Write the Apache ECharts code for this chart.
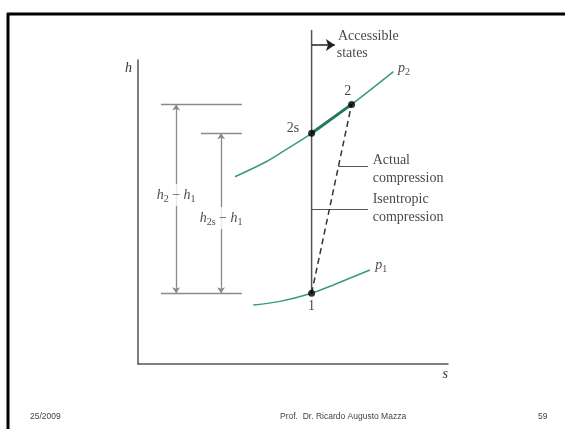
<!DOCTYPE html>
<html>
<head>
<meta charset="utf-8">
<script src="https://cdn.jsdelivr.net/npm/echarts@6/dist/echarts.min.js"></script>
<style>
html,body{margin:0;padding:0;background:#fff;}
#chart{width:565px;height:429px;}
</style>
</head>
<body>
<div id="chart"></div>
<script>
// ---- data (s, h in arbitrary diagram units) ----
const p2Curve = [[3.13,6.16],[4.15,6.66],[4.80,7.07],[5.60,7.59],[6.89,8.54],[8.24,9.62]];
const p1Curve = [[3.72,1.94],[4.58,2.06],[5.60,2.33],[6.30,2.60],[7.48,3.09]];
const state1  = [5.60, 2.33];
const state2s = [5.60, 7.59];
const state2  = [6.89, 8.54];
const isentropeTop = 10.99;
const accessibleArrow = [[5.60,10.49],[6.35,10.49]];
const actualLeader = [[6.46,6.49],[7.42,6.49]];
const isenLeader = [[5.60,5.10],[7.42,5.10]];
const dimLeft = 0.74, dimMid = 2.03, dimRight = 3.35;
const dimArrowX1 = 1.23, dimArrowX2 = 2.68;
const textLabels = [
  {name:'Accessible', value:[6.45,10.79], align:'left'},
  {name:'states', value:[6.41,10.22], align:'left'},
  {name:'{i|p}{sub|2}', value:[8.39,9.74], align:'left'},
  {name:'2', value:[6.77,8.96], align:'center'},
  {name:'2s', value:[5.00,7.76], align:'center'},
  {name:'Actual', value:[7.57,6.71], align:'left'},
  {name:'compression', value:[7.57,6.11], align:'left'},
  {name:'Isentropic', value:[7.57,5.43], align:'left'},
  {name:'compression', value:[7.57,4.81], align:'left'},
  {name:'{i|p}{sub|1}', value:[7.65,3.26], align:'left'},
  {name:'1', value:[5.60,1.91], align:'center'},
  {name:'{i|h}{sub|2}{n| − }{i|h}{sub|1}', value:[1.23,5.56], align:'center', bg:true},
  {name:'{i|h}{sub|2s}{n| − }{i|h}{sub|1}', value:[2.68,4.80], align:'center', bg:true}
];

const serif = 'Liberation Serif';
const gray = '#555';
const dimGray = '#8a8a8a';
const thinGreen = '#3a9a7a';
const thickGreen = '#23795a';
const ink = '#151515';

const richStyles = {
  i:{fontFamily:serif, fontStyle:'italic', fontSize:14, lineHeight:18, verticalAlign:'middle', color:ink},
  n:{fontFamily:serif, fontSize:14, lineHeight:18, verticalAlign:'middle', color:ink},
  sub:{fontFamily:serif, fontSize:10, lineHeight:8, verticalAlign:'bottom', color:ink}
};

const chart = echarts.init(document.getElementById('chart'), null, {renderer:'canvas'});
const option = {
  animation:false,
  backgroundColor:'#fff',
  grid:{left:138, right:117, top:60, bottom:65},
  xAxis:{type:'value', min:0, max:10, name:'s', nameLocation:'end', nameGap:0,
    nameTextStyle:{fontFamily:serif, fontStyle:'italic', fontSize:14, color:'#333', align:'right', verticalAlign:'top', padding:[3,0,0,0]},
    axisLine:{lineStyle:{color:gray, width:1.5}}, axisTick:{show:false}, axisLabel:{show:false}, splitLine:{show:false}},
  yAxis:{type:'value', min:0, max:10, name:'h', nameLocation:'end', nameGap:0,
    nameTextStyle:{fontFamily:serif, fontStyle:'italic', fontSize:14, color:'#333', align:'right', verticalAlign:'top', padding:[1,6,0,0]},
    axisLine:{lineStyle:{color:gray, width:1.5}}, axisTick:{show:false}, axisLabel:{show:false}, splitLine:{show:false}},
  graphic:[
    {type:'line', shape:{x1:7, y1:14, x2:565, y2:14}, style:{stroke:'#000', lineWidth:3}},
    {type:'line', shape:{x1:8, y1:13, x2:8, y2:429}, style:{stroke:'#000', lineWidth:3}},
    {type:'text', left:30, top:412, style:{text:'25/2009', font:'8.5px "Liberation Sans"', fill:'#444'}},
    {type:'text', x:280, top:412, style:{text:'Prof.  Dr. Ricardo Augusto Mazza', font:'8.5px "Liberation Sans"', fill:'#444', align:'center'}},
    {type:'text', left:538, top:412, style:{text:'59', font:'8.5px "Liberation Sans"', fill:'#444'}}
  ],
  series:[
    {type:'line', data:p2Curve, smooth:0.3, symbol:'none', lineStyle:{color:thinGreen, width:1.5}, z:2},
    {type:'line', data:[state2s, state2], symbol:'none', lineStyle:{color:thickGreen, width:3}, z:3},
    {type:'line', data:p1Curve, smooth:0.3, symbol:'none', lineStyle:{color:thinGreen, width:1.5}, z:2},
    {type:'line', data:[state1, [state1[0], isentropeTop]], symbol:'none', clip:false, lineStyle:{color:gray, width:1.5}, z:2},
    {type:'line', data:[state1, state2], symbol:'none', lineStyle:{color:'#333', width:1.5, type:[6,4]}, z:3},
    {type:'lines', coordinateSystem:'cartesian2d', clip:false, symbol:['none','arrow'], symbolSize:[0,9],
      lineStyle:{color:'#222', width:1.5, opacity:1}, data:[{coords:accessibleArrow}], z:3},
    {type:'lines', coordinateSystem:'cartesian2d', symbol:'none',
      lineStyle:{color:gray, width:1.2, opacity:1}, data:[{coords:actualLeader},{coords:isenLeader}], z:2},
    {type:'lines', coordinateSystem:'cartesian2d', symbol:'none',
      lineStyle:{color:dimGray, width:1.3, opacity:1},
      data:[
        {coords:[[dimLeft,state2[1]],[dimRight,state2[1]]]},
        {coords:[[dimMid,state2s[1]],[dimRight,state2s[1]]]},
        {coords:[[dimLeft,state1[1]],[dimRight,state1[1]]]}
      ], z:2},
    {type:'lines', coordinateSystem:'cartesian2d', symbol:['arrow','arrow'], symbolSize:6,
      lineStyle:{color:dimGray, width:1.3, opacity:1},
      data:[
        {coords:[[dimArrowX1,state1[1]],[dimArrowX1,state2[1]]]},
        {coords:[[dimArrowX2,state1[1]],[dimArrowX2,state2s[1]]]}
      ], z:2},
    {type:'scatter', data:[state1, state2s, state2], symbol:'circle', symbolSize:7,
      itemStyle:{color:'#000'}, z:5},
    {type:'scatter', symbolSize:0, z:10, clip:false,
      data:textLabels.map(d => ({
        name:d.name, value:d.value,
        label:{align:d.align, backgroundColor:d.bg ? '#fff' : 'transparent', padding:d.bg ? [2,1,2,1] : 0}
      })),
      label:{show:true, position:'inside', color:ink, formatter:p => p.name.indexOf('{') === 0 ? p.name : '{n|' + p.name + '}',
        verticalAlign:'middle', rich:richStyles}
    }
  ]
};
chart.setOption(option);
</script>
</body>
</html>
